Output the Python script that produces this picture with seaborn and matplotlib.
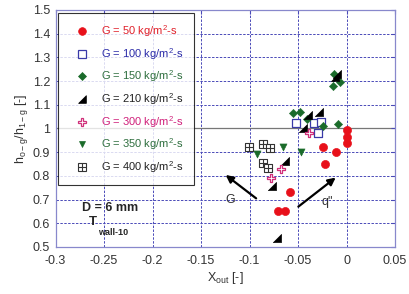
import numpy as np
import pandas as pd
import matplotlib
matplotlib.use("Agg")
import matplotlib.pyplot as plt
import seaborn as sns
from matplotlib.lines import Line2D

sns.set_style("white")
plt.rcParams['font.family'] = ['Liberation Sans', 'DejaVu Sans']
plt.rcParams['mathtext.fontset'] = 'custom'
plt.rcParams['mathtext.rm'] = 'Liberation Sans'

# data
x50 = [0.0, 0.0, 0.0, -0.024, -0.011, -0.022, -0.058, -0.071, -0.064]
y50 = [0.992, 0.965, 0.940, 0.921, 0.900, 0.850, 0.733, 0.652, 0.650]
x100 = [-0.052, -0.034, -0.026, -0.029]
y100 = [1.024, 1.024, 1.029, 0.982]
x150 = [-0.013, -0.007, -0.014, -0.055, -0.048, -0.041, -0.024, -0.009]
y150 = [1.230, 1.197, 1.179, 1.064, 1.071, 1.039, 1.010, 1.018]
x210 = [-0.012, -0.010, -0.040, -0.028, -0.045, -0.064, -0.077, -0.072]
y210 = [1.218, 1.228, 1.057, 1.068, 1.000, 0.863, 0.757, 0.537]
x300 = [-0.039, -0.068, -0.078]
y300 = [0.980, 0.828, 0.790]
x350 = [-0.092, -0.066, -0.047]
y350 = [0.891, 0.923, 0.902]
x400 = [-0.101, -0.086, -0.079, -0.086, -0.081]
y400 = [0.923, 0.935, 0.916, 0.856, 0.832]

labels = ["G = 50 kg/m$^2$-s", "G = 100 kg/m$^2$-s", "G = 150 kg/m$^2$-s",
          "G = 210 kg/m$^2$-s", "G = 300 kg/m$^2$-s", "G = 350 kg/m$^2$-s",
          "G = 400 kg/m$^2$-s"]
text_colors = ['#e0202a', '#2a2aa8', '#2e6e3e', '#222222', '#d0207a', '#2e6e3e', '#222222']

corner = [(-1, -1), (1, -1), (1, 1), (-1, -1)]
styles = [
    dict(marker='o', color='#e8101a', edgecolor='#e8101a', s=34),
    dict(marker='s', color='white', edgecolor='#3a3aa8', s=36, linewidth=0.9),
    dict(marker='D', color='#1a6b2a', edgecolor='#1a6b2a', s=18),
    dict(marker=corner, color='black', edgecolor='black', s=34),
    dict(marker='P', color='white', edgecolor='#d0307a', s=40, linewidth=0.9),
    dict(marker='v', color='#1a6b2a', edgecolor='#1a6b2a', s=26),
    dict(marker='s', color='white', edgecolor='#333333', s=40, linewidth=0.8),
]
xs = [x50, x100, x150, x210, x300, x350, x400]
ys = [y50, y100, y150, y210, y300, y350, y400]

fig = plt.figure(figsize=(4.09, 2.94), dpi=100)
ax = fig.add_axes([0.136, 0.16, 0.83, 0.806])

grid_c = '#4a4ab8'
for v in np.arange(-0.25, 0.05, 0.05):
    ax.axvline(v, color=grid_c, lw=0.7, ls=(0, (2.5, 1.5)), zorder=0)
for v in np.arange(0.6, 1.5, 0.1):
    if abs(v - 1.0) > 1e-6:
        ax.axhline(v, color=grid_c, lw=0.7, ls=(0, (2.5, 1.5)), zorder=0)
ax.axhline(1.0, color='#777777', lw=0.9, zorder=0)

for xv, yv, st in zip(xs, ys, styles):
    df = pd.DataFrame({'x': xv, 'y': yv})
    sns.scatterplot(data=df, x='x', y='y', ax=ax, zorder=3, **st)
# cross inside the boxes of the 400 series
sns.scatterplot(x=x400, y=y400, ax=ax, marker='+', color='#333333', s=40,
                linewidth=0.8, zorder=4)

handles = []
for st in styles:
    handles.append(Line2D([], [], ls='none', marker=st['marker'],
                          markerfacecolor=st['color'], markeredgecolor=st['edgecolor'],
                          markersize=np.sqrt(st['s']) * 0.95,
                          markeredgewidth=st.get('linewidth', 0.5)))
plus = Line2D([], [], ls='none', marker='+', color='#333333',
              markersize=np.sqrt(40) * 0.95, markeredgewidth=0.8)
handles[-1] = (handles[-1], plus)
leg = ax.legend(handles, labels, loc='upper left', bbox_to_anchor=(0.007, 0.987),
                borderaxespad=0, fontsize=8, frameon=True, fancybox=False,
                edgecolor='black', borderpad=0.9, handlelength=2.5,
                handletextpad=0.5, labelspacing=0.62)
leg.get_frame().set_linewidth(0.8)
for t, c in zip(leg.get_texts(), text_colors):
    t.set_color(c)

# arrows and annotations
ax.annotate('', xy=(-0.127, 0.811), xytext=(-0.091, 0.698),
            arrowprops=dict(arrowstyle='-|>', color='black', lw=1.6, mutation_scale=11))
ax.annotate('', xy=(-0.009, 0.800), xytext=(-0.052, 0.663),
            arrowprops=dict(arrowstyle='-|>', color='black', lw=1.6, mutation_scale=11))
ax.text(-0.12, 0.700, 'G', fontsize=9, color='#333333', ha='center', va='center')
ax.text(-0.020, 0.688, 'q"', fontsize=9, color='#333333', ha='center', va='center')
ax.text(-0.244, 0.665, 'D = 6 mm', fontsize=9, fontweight='bold', ha='center', va='center')
ax.text(-0.262, 0.605, 'T', fontsize=9.5, fontweight='bold', ha='center', va='center')
ax.text(-0.256, 0.562, 'wall-10', fontsize=6.5, fontweight='bold', ha='left', va='center')

ax.set_xlim(-0.3, 0.05)
ax.set_ylim(0.5, 1.5)
ax.set_xticks(np.round(np.arange(-0.3, 0.051, 0.05), 2))
ax.set_xticklabels(['-0.3', '-0.25', '-0.2', '-0.15', '-0.1', '-0.05', '0', '0.05'])
ax.set_yticks(np.round(np.arange(0.5, 1.51, 0.1), 1))
ax.set_yticklabels(['0.5', '0.6', '0.7', '0.8', '0.9', '1', '1.1', '1.2', '1.3', '1.4', '1.5'])
ax.tick_params(direction='in', length=3, color=grid_c, labelsize=9, labelcolor='#333333',
               top=True, right=True)
ax.tick_params(axis='x', pad=6)
ax.tick_params(axis='y', pad=4)
for sp in ax.spines.values():
    sp.set_color('#8888cc')
    sp.set_linewidth(0.9)

ax.set_xlabel(r'X$_{\mathregular{out}}$ [-]', fontsize=9, color='#333333', labelpad=2)
ax.set_ylabel(r'h$_{\mathregular{o-g}}$/h$_{\mathregular{1-g}}$ [-]', fontsize=9,
              color='#333333', labelpad=2)

fig.savefig('out.png', dpi=100)
